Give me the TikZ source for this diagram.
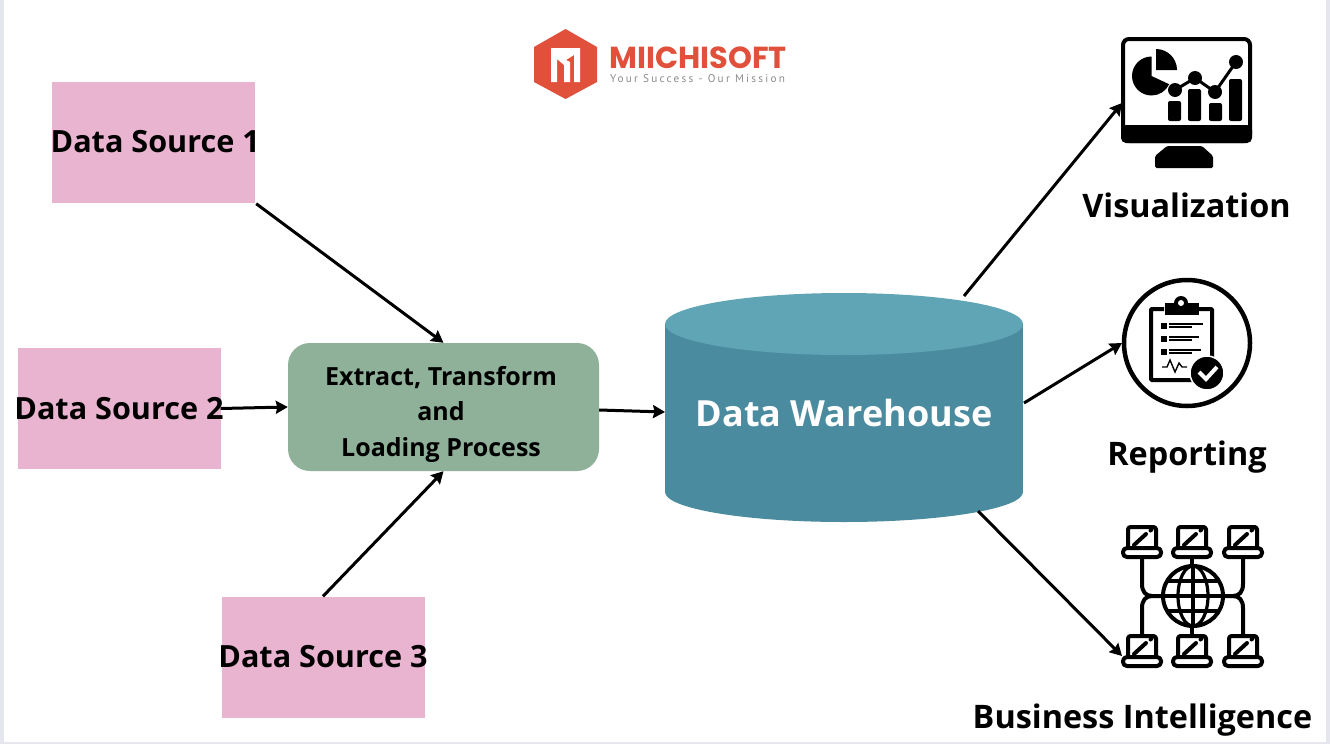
\documentclass[tikz,border=0pt]{standalone}
\usepackage{fontspec}
\setmainfont{Open Sans}
\newfontfamily\logofont{Poppins}
\newfontfamily\logosubfont{PT Sans}
\usetikzlibrary{arrows.meta}
\definecolor{srcpink}{HTML}{E9B4D0}
\definecolor{etlgreen}{HTML}{8FB19A}
\definecolor{cyltop}{HTML}{60A5B6}
\definecolor{cylbody}{HTML}{4B8B9F}
\definecolor{logored}{HTML}{E0503A}
\definecolor{logogrey}{HTML}{8C8C8C}
\definecolor{edgegrey}{HTML}{E6E6EE}
\tikzset{
  src/.style={fill=srcpink,draw=none,minimum width=203pt,minimum height=121pt,inner sep=0pt,font=\bfseries\fontsize{30.6}{34}\selectfont,text=black},
  flow/.style={line width=3pt,black,-{Stealth[length=12pt,width=13pt,inset=1.5pt]}},
  lab/.style={font=\bfseries\fontsize{32.4}{36}\selectfont,text=black,inner sep=0pt},
  ink/.style={line width=4pt,black,line cap=round,line join=round},
  laptop/.pic={
    \draw[ink,fill=white,rounded corners=2.5pt] (-14,2) rectangle (14,24);
    \draw[ink,fill=white,rounded corners=4pt] (-19,23) rectangle (19,32);
    \draw[ink] (-8,20) -- (4,9);
    \draw[ink] (8.5,5.5) -- (9.5,4.5);
  }
}
\begin{document}
\begin{tikzpicture}[x=1pt,y=-1pt]
\useasboundingbox (0,0) rectangle (1330,744);
\fill[white] (0,0) rectangle (1330,744);
\fill[edgegrey] (0,0) rectangle (4,744);
\fill[edgegrey] (1326,0) rectangle (1330,744);
\fill[edgegrey] (0,742) rectangle (1330,744);

% logo
\fill[logored] (565.5,29) -- (597,47) -- (597,82) -- (565.5,99) -- (534,82) -- (534,47) -- cycle;
\fill[white] (551,48) -- (580,48) -- (580,82) -- (574,82) -- (574,55) -- (566,60) -- (570,62) -- (570,82) -- (564,82) -- (564,65) -- (557,59) -- (557,82) -- (551,82) -- cycle;
\node[inner sep=0pt,anchor=center,text=logored] (logotext) at (698,68) {\logofont\bfseries\fontsize{30.4}{32}\selectfont\smash{MIICHISOFT}};
\node[inner sep=0pt,anchor=center,text=logogrey] (logosub) at (697.5,79) {\logosubfont\addfontfeature{LetterSpace=20}\fontsize{11.2}{12}\selectfont Your Success - Our Mission};

% sources
\node[src] (ds1) at (153.5,142) {\makebox[0pt]{\hspace{3.5pt}Data Source 1}};
\node[src] (ds2) at (119,408.5) {\makebox[0pt]{Data Source 2}};
\node[src] (ds3) at (323,657) {\makebox[0pt]{Data Source 3}};

% ETL
\node[fill=etlgreen,rounded corners=22pt,minimum width=311pt,minimum height=128pt,inner sep=0pt] (etl) at (443.5,407) {};
\node[font=\bfseries\fontsize{25}{35.5}\selectfont,align=center,inner sep=0pt,text=black] (etltext) at (441,414) {Extract, Transform\\and\\Loading Process};

% warehouse cylinder
\fill[cylbody] (665,324) rectangle (1023,492);
\fill[cylbody] (844,492) ellipse[x radius=179,y radius=30];
\fill[cyltop] (844,324) ellipse[x radius=179,y radius=31];
\node[font=\bfseries\fontsize{36}{40}\selectfont,text=white,inner sep=0pt] (wh) at (844,413) {Data Warehouse};

\coordinate (whW) at (665,412);
\coordinate (whV) at (964,296);
\coordinate (whR) at (1024,403);
\coordinate (whB) at (978,511);
\coordinate (visIn) at (1122,103);
\coordinate (repIn) at (1122,343);
\coordinate (biIn) at (1122,656);

% visualization icon
\draw[black,line width=4pt,rounded corners=6pt] (1123,39) rectangle (1250,141);
\fill[black,rounded corners=5pt] (1121,125) -- (1252,125) -- (1252,143) -- (1121,143) -- cycle;
\fill[black,rounded corners=1.5pt] (1167,146) -- (1202,146) -- (1213,156) -- (1213,168) -- (1155,168) -- (1155,156) -- cycle;
\fill[black] (1151.5,76) -- (1151.5,56.5) arc[start angle=90,end angle=335,radius=19.5pt] -- cycle;
\fill[black] (1156,70) -- (1156,49) arc[start angle=90,end angle=0,radius=21pt] -- cycle;
\foreach \xa/\xb/\yt in {1168/1181/101,1188/1201/89,1209/1222/103,1229/1242/79}
  \fill[black,rounded corners=2pt] (\xa,\yt) rectangle (\xb,121);
\draw[black,line width=3pt] (1175,90) -- (1195,78) -- (1215,92) -- (1236,62);
\foreach \cx/\cy in {1175/90,1195/78,1215/92,1236/62}
  \fill[black] (\cx,\cy) circle[radius=7];

% reporting icon
\draw[black,line width=4.5pt] (1187,343) circle[radius=63];
\draw[black,line width=4pt,rounded corners=1pt] (1164,309) -- (1151,309) -- (1151,380) -- (1212,380) -- (1212,309) -- (1199,309);
\fill[black] (1165,303) rectangle (1199,315);
\fill[black] (1181,303) circle[radius=7];
\fill[white] (1181,303) circle[radius=3];
\foreach \yy/\xe/\xf in {323/1203/1192,336/1199/1192,349/1201/1192}{
  \fill[black] (1161,\yy) rectangle (1167,\yy+6);
  \draw[black,line width=1.4pt] (1169,\yy+1) -- (\xe,\yy+1);
  \draw[black,line width=1.4pt] (1169,\yy+4) -- (\xf,\yy+4);
}
\draw[black,line width=1.4pt] (1162,367) -- (1167,367) -- (1170,360) -- (1175,372) -- (1179,363) -- (1182,367) -- (1187,367);
\fill[black,draw=white,line width=1.5pt] (1207,373) circle[radius=17];
\draw[white,line width=4pt] (1199,372) -- (1206,379) -- (1217,367);

% BI icon
\draw[ink] (1192,558) -- (1192,640);
\draw[ink] (1142,555) -- (1142,584) .. controls (1142,592) and (1146,596) .. (1152,596) -- (1234,596);
\draw[ink] (1142,635) -- (1142,608) .. controls (1142,600) and (1146,596) .. (1152,596);
\draw[ink] (1243,555) -- (1243,584) .. controls (1243,592) and (1239,596) .. (1233,596);
\draw[ink] (1243,635) -- (1243,608) .. controls (1243,600) and (1239,596) .. (1233,596);
\fill[white] (1193,596) circle[radius=30];
\draw[ink] (1193,596) circle[radius=30];
\draw[ink,line width=3.2pt] (1193,596) ellipse[x radius=15,y radius=30];
\draw[ink,line width=3.2pt] (1193,566) -- (1193,626);
\draw[ink,line width=3.2pt] (1163,596) -- (1223,596);
\draw[ink,line width=3.2pt] (1168,581) -- (1218,581);
\draw[ink,line width=3.2pt] (1168,611) -- (1218,611);
\foreach \lx in {1142,1192,1243}{
  \pic at (\lx,525) {laptop};
  \pic at (\lx,634) {laptop};
}

% labels
\node[lab] (vislab) at (1186.5,205) {Visualization};
\node[lab] (replab) at (1187,457) {Reporting};
\node[lab] (bilab) at (1142.5,720) {Business Intelligence};

% connectors
\draw[flow] (ds1.south east) ++(1,1) -- (etl.north);
\draw[flow] (ds2.east) -- (etl.west);
\draw[flow] (ds3.north) -- (etl.south);
\draw[flow] (etl.east) ++(0,3) -- (whW);
\draw[flow] (whV) -- (visIn);
\draw[flow] (whR) -- (repIn);
\draw[flow] (whB) -- (biIn);
\end{tikzpicture}
\end{document}
